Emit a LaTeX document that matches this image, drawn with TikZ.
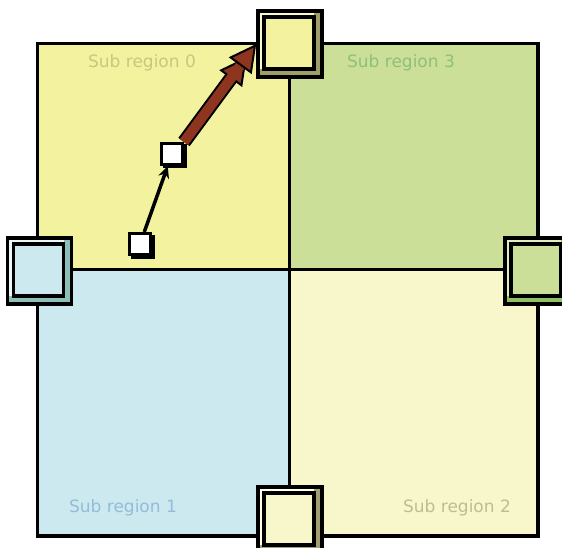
\documentclass[tikz,border=0pt]{standalone}
\usepackage{fontspec}
\setmainfont{DejaVu Sans}
\usepackage{tikz}
\usetikzlibrary{arrows.meta,positioning}
\definecolor{QYellow}{HTML}{F3F29E}
\definecolor{QGreen}{HTML}{CBDF98}
\definecolor{QBlue}{HTML}{CDE9F0}
\definecolor{QCream}{HTML}{F8F7CB}
\definecolor{ShOlive}{HTML}{9E9E6A}
\definecolor{ShTeal}{HTML}{8CBFB9}
\definecolor{ShGreen}{HTML}{8FC062}
\definecolor{ShCream}{HTML}{A0A072}
\definecolor{LtYellow}{HTML}{FAFAC8}
\definecolor{LtBlue}{HTML}{EAF6F8}
\definecolor{LtGreen}{HTML}{E0EDC4}
\definecolor{LtCream}{HTML}{FFFFEA}
\definecolor{Rust}{HTML}{8E3520}
\definecolor{TxYellow}{HTML}{C8C682}
\definecolor{TxGreen}{HTML}{8EC07A}
\definecolor{TxBlue}{HTML}{94BCD8}
\definecolor{TxCream}{HTML}{BDBD94}
\tikzset{
 port/.style n args={3}{rectangle,draw=black,line width=3.5pt,inner sep=0pt,
   minimum width=64pt,minimum height=66pt,fill=#2,
   path picture={
     \fill[#3] (path picture bounding box.north west) rectangle
       ([shift={(-8,-8)}]path picture bounding box.south east);
     \draw[line width=3.5pt,fill=#1] ([shift={(6,6)}]path picture bounding box.north west)
       rectangle ([shift={(-8,-8)}]path picture bounding box.south east);}},
 cell/.style={rectangle,draw=black,line width=3pt,fill=white,inner sep=0pt,
   minimum size=21pt,
   preaction={draw=black,fill=black,transform canvas={shift={(2.5pt,-2.5pt)}}}},
 region/.style={font=\fontsize{17}{20}\selectfont,inner sep=0pt},
 link/.style={-{Stealth[length=12pt,width=11pt]},line width=3.5pt,draw=black},
 move/.style={-{Triangle[length=27pt,width=28pt,fill=Rust,color=black,line width=2pt]},
   line width=10pt,draw=Rust,
   preaction={draw=black,line width=14pt,shorten >=16pt}}
}
\begin{document}
\begin{tikzpicture}[x=1pt,y=-1pt]
\useasboundingbox[fill=white] (0,0) rectangle (562,548);
% quadrants
\fill[QYellow] (37.5,43.5) rectangle (289.5,269.5);
\fill[QGreen] (289.5,43.5) rectangle (538,269.5);
\fill[QBlue] (37.5,269.5) rectangle (289.5,536);
\fill[QCream] (289.5,269.5) rectangle (538,536);
\draw[line width=3.5pt] (37.5,43.5) rectangle (538,536);
\draw[line width=3.5pt] (289.5,43.5) -- (289.5,536) (37.5,269.5) -- (538,269.5);
% labels
\node[region,text=TxYellow] (r0) at (142,63) {Sub region 0};
\node[region,text=TxGreen] (r3) at (401,63) {Sub region 3};
\node[region,text=TxBlue] (r1) at (123,508) {Sub region 1};
\node[region,text=TxCream] (r2) at (457,508) {Sub region 2};
% ports on the border
\node[port={QYellow}{ShOlive}{LtYellow}] (top) at (290,44) {};
\node[port={QBlue}{ShTeal}{LtBlue}] (left) at (39.5,271) {};
\node[port={QGreen}{ShGreen}{LtGreen}] (right) at (537,271) {};
\node[port={QCream}{ShCream}{LtCream}] (bottom) at (290,520) {};
% cells and moves
\node[cell] (c1) at (172,154) {};
\node[cell] (c2) at (140,244) {};
\draw[link] (c2) -- (c1);
\draw[move] (c1.north east) -- (top.west);
\end{tikzpicture}
\end{document}
